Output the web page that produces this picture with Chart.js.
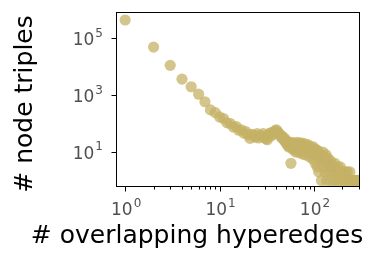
<!DOCTYPE html>
<html><head><meta charset="utf-8">
<script src="https://cdn.jsdelivr.net/npm/chart.js@4.4.1/dist/chart.umd.min.js"></script>
<style>html,body{margin:0;padding:0;background:#fff}</style>
</head><body>
<canvas id="c" width="375" height="260" style="display:block;width:375px;height:260px"></canvas>
<script>
const overlaps = [1,2,3,4,5,6,7,8,9,10,11,12,13,14,15,16,17,18,19,20,21,22,23,24,25,26,27,28,29,30,31,32,33,34,35,36,37,38,39,40,41,42,43,44,45,46,47,48,49,50,51,52,53,54,55,56,57,58,59,60,61,62,63,64,65,66,67,68,69,70,72,73,74,75,76,78,79,80,82,83,85,86,88,89,90,92,93,95,96,98,100,101,103,104,106,108,109,110,112,113,115,118,120,122,124,126,128,130,132,134,136,138,140,143,146,148,150,153,156,160,163,166,170,174,178,182,186,190,195,200,205,210,215,220,225,232,240,248,256,265,275,285,300];
const triples = [430000,48000,11000,3600,1950,1070,580,300,240,170,150,105,100,75,78,58,60,46,52,40,30,42,38,33,44,31,38,36,44,32,29,27,40,46,36,48,42,52,56,60,50,48,42,38,33,36,29,26,30,23,20,24,17,15,21,17,4,22,13,18,12,20,15,10,17,22,12,10,19,16,21,9,14,18,11,20,8,15,17,10,13,18,7,12,16,9,14,6,11,15,8,13,4,10,12,3,7,11,2,9,5,8,1,6,10,3,7,2,5,8,1,4,6,2,3,5,1,4,2,3,1,4,2,1,3,2,1,3,2,1,2,1,2,1,2,1,2,1,1,1,1,1,1];
const xMajorTicks = [1, 10, 100];
const xMinorTicks = [2,3,4,5,6,7,8,9,20,30,40,50,60,70,80,90,200,300];
const xTickExponents = ['0', '1', '2'];
const yTicks = [10, 1000, 100000];
const yTickExponents = ['1', '3', '5'];
const tickBase = '10';
const xTitle = '# overlapping hyperedges';
const yTitle = '# node triples';

const points = overlaps.map((x, i) => ({x: x, y: triples[i]}));
const FONT = 'DejaVu Sans';
const BASE_SIZE = 17, SUP_SIZE = 12, TITLE_SIZE = 25;

function drawPower(ctx, base, exp, x, baseline, align) {
  ctx.font = BASE_SIZE + 'px "' + FONT + '"';
  const wb = ctx.measureText(base).width;
  ctx.font = SUP_SIZE + 'px "' + FONT + '"';
  const we = ctx.measureText(exp).width;
  const gap = 1;
  const total = wb + gap + we;
  const start = align === 'center' ? x - total / 2 : x - total;
  ctx.textAlign = 'left';
  ctx.textBaseline = 'alphabetic';
  ctx.font = BASE_SIZE + 'px "' + FONT + '"';
  ctx.fillText(base, start, baseline);
  ctx.font = SUP_SIZE + 'px "' + FONT + '"';
  ctx.fillText(exp, start + wb + gap, baseline - 8.5);
}

const framePlugin = {
  id: 'frame',
  afterDatasetsDraw(chart) {
    const {ctx, chartArea: a, scales} = chart;
    const xs = scales.x, ys = scales.y;
    ctx.save();
    ctx.strokeStyle = '#000';
    ctx.lineWidth = 1;
    ctx.beginPath();
    xs.ticks.forEach(t => {
      const p = Math.round(xs.getPixelForValue(t.value)) + 0.5;
      const len = xMajorTicks.includes(t.value) ? 4.5 : 2.5;
      ctx.moveTo(p, a.bottom);
      ctx.lineTo(p, a.bottom + len);
    });
    ys.ticks.forEach(t => {
      const p = Math.round(ys.getPixelForValue(t.value)) + 0.5;
      ctx.moveTo(a.left - 4.5, p);
      ctx.lineTo(a.left, p);
    });
    ctx.stroke();
    ctx.strokeRect(a.left + 0.5, a.top + 0.5, a.right - a.left - 1, a.bottom - a.top - 1);

    // tick labels
    ctx.fillStyle = '#505050';
    xMajorTicks.forEach((v, i) => {
      drawPower(ctx, tickBase, xTickExponents[i], xs.getPixelForValue(v) + 1, a.bottom + 28, 'center');
    });
    yTicks.forEach((v, i) => {
      drawPower(ctx, tickBase, yTickExponents[i], a.left - 13, ys.getPixelForValue(v) + 7, 'right');
    });

    // axis titles
    ctx.fillStyle = '#000';
    ctx.font = TITLE_SIZE + 'px "' + FONT + '"';
    ctx.textAlign = 'center';
    ctx.textBaseline = 'alphabetic';
    ctx.fillText(xTitle, 197, 243);
    ctx.save();
    ctx.translate(32, 104);
    ctx.rotate(-Math.PI / 2);
    ctx.fillText(yTitle, 0, 0);
    ctx.restore();
    ctx.restore();
  }
};

new Chart(document.getElementById('c'), {
  type: 'scatter',
  data: {
    datasets: [{
      data: points,
      backgroundColor: 'rgba(196,178,102,0.75)',
      borderWidth: 0,
      pointRadius: 5.6,
      pointHoverRadius: 5.6,
      clip: 0
    }]
  },
  options: {
    responsive: false,
    devicePixelRatio: 1,
    animation: false,
    events: [],
    layout: {padding: {left: 0, right: 15, top: 12, bottom: 0}},
    plugins: {legend: {display: false}, tooltip: {enabled: false}},
    scales: {
      x: {
        type: 'logarithmic',
        min: 0.8,
        max: 307,
        afterBuildTicks: s => {
          s.ticks = xMajorTicks.concat(xMinorTicks).sort((a, b) => a - b).map(v => ({value: v}));
        },
        afterFit: s => { s.height = 73; },
        grid: {drawOnChartArea: false, drawTicks: false},
        border: {display: false},
        ticks: {display: false},
        title: {display: false, text: xTitle}
      },
      y: {
        type: 'logarithmic',
        min: 0.59,
        max: 820000,
        afterBuildTicks: s => {
          s.ticks = yTicks.map(v => ({value: v}));
        },
        afterFit: s => { s.width = 116; },
        grid: {drawOnChartArea: false, drawTicks: false},
        border: {display: false},
        ticks: {display: false},
        title: {display: false, text: yTitle}
      }
    }
  },
  plugins: [framePlugin]
});
</script>
</body></html>
